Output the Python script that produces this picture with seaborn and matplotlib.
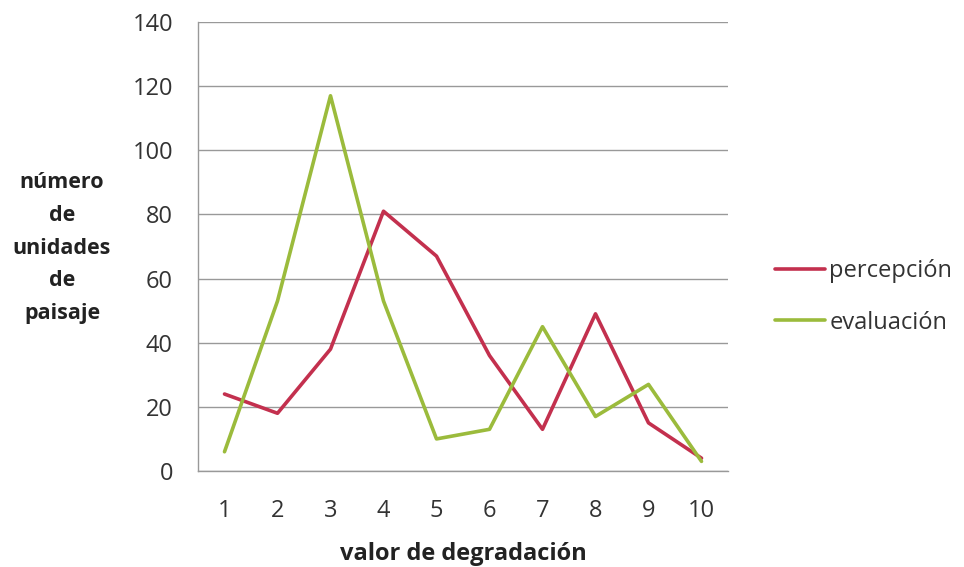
import matplotlib
matplotlib.use("Agg")
import matplotlib.pyplot as plt
import seaborn as sns
import pandas as pd
import numpy as np
from matplotlib.ticker import FixedLocator

categories = [1, 2, 3, 4, 5, 6, 7, 8, 9, 10]
percepcion = [24, 18, 38, 81, 67, 36, 13, 49, 15, 4]
evaluacion = [6, 53, 117, 53, 10, 13, 45, 17, 27, 3]
series_names = ["percepción", "evaluación"]
y_ticks = [0, 20, 40, 60, 80, 100, 120, 140]

df = pd.DataFrame({
    "x": categories * 2,
    "y": percepcion + evaluacion,
    "serie": [series_names[0]] * len(categories) + [series_names[1]] * len(categories),
})

sns.set_style("white")
plt.rcParams["font.family"] = ["Open Sans", "DejaVu Sans"]

fig = plt.figure(figsize=(9.64, 5.67), dpi=100)
ax = fig.add_axes([198 / 964, 1 - 471 / 567, 530 / 964, 449 / 567])

palette = {"percepción": "#C3304E", "evaluación": "#9BBB3C"}
sns.lineplot(data=df, x="x", y="y", hue="serie", palette=palette, linewidth=2.6,
             ax=ax, legend=True)

ax.set_xlim(0.5, 10.5)
ax.set_ylim(0, 140)
ax.set_yticks(y_ticks)
ax.set_xticks(categories)
ax.set_xticklabels([str(c) for c in categories])
ax.xaxis.set_minor_locator(FixedLocator(np.arange(0.5, 11, 1.0)))
ax.tick_params(axis="x", which="major", length=0, pad=20, labelsize=17)
ax.tick_params(axis="x", which="minor", length=6, width=1, color="#999999", direction="out")
ax.tick_params(axis="y", which="major", length=9, width=1, color="#999999", direction="out",
               labelsize=17, pad=9)
for lab in ax.get_yticklabels():
    lab.set_color("#333333")
for lab in ax.get_xticklabels():
    lab.set_color("#333333")

ax.yaxis.grid(True, color="#999999", linewidth=1)
ax.xaxis.grid(False)
ax.set_axisbelow(True)
for s in ["top", "right"]:
    ax.spines[s].set_visible(False)
for s in ["left", "bottom"]:
    ax.spines[s].set_color("#999999")
    ax.spines[s].set_linewidth(1)

ax.set_xlabel("valor de degradación", fontsize=17, fontweight="bold", color="#222222", labelpad=14)
ax.set_ylabel("")
fig.text(62 / 964, 1 - 248 / 567, "número\nde\nunidades\nde\npaisaje", ha="center", va="center",
         fontsize=15.5, fontweight="bold", color="#222222", linespacing=1.74)

handles, labels = ax.get_legend_handles_labels()
ax.legend_.remove()
fig.legend(handles, labels, loc="center left", bbox_to_anchor=(775 / 964, 1 - 297 / 567),
           frameon=False, fontsize=17, handlelength=2.1, handletextpad=0.2, labelspacing=1.15,
           borderpad=0, borderaxespad=0, labelcolor="#333333")

fig.savefig("out.png", dpi=100)
